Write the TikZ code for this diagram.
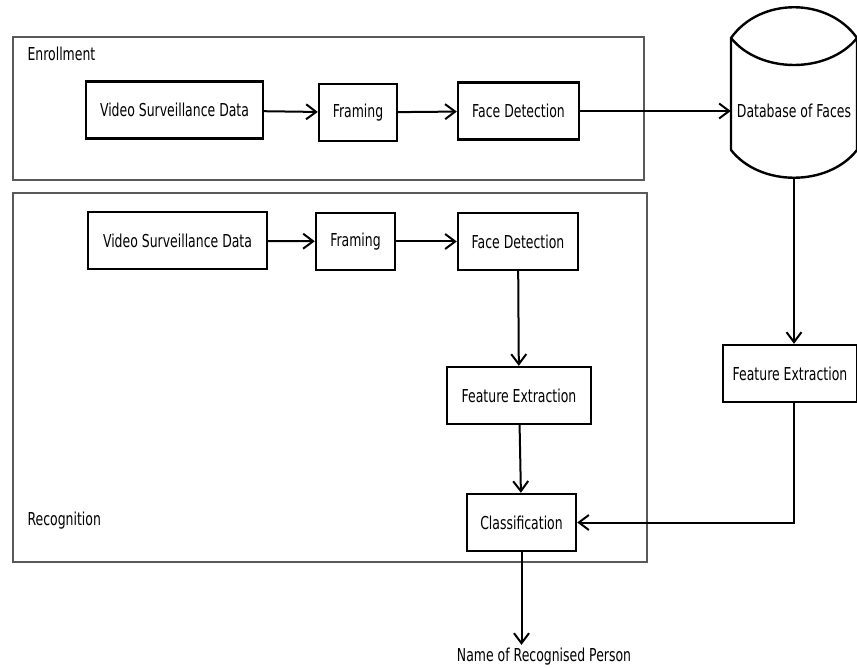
\documentclass[tikz,border=0pt]{standalone}
\usepackage{fontspec}
\setmainfont{DejaVu Sans}[FakeStretch=0.70]
\usetikzlibrary{arrows.meta, positioning}

\begin{document}
\begin{tikzpicture}[x=1pt, y=-1pt, font=\fontsize{17.8}{20}\selectfont,
  stage/.style={draw, line width=2.4pt, minimum height=57pt, inner sep=2pt, align=center},
  frame/.style={draw=black!65, line width=1.1pt},
  flow/.style={-{Straight Barb[length=10pt, width=15pt]}, line width=2pt}]
\useasboundingbox (0,0) rectangle (857,668);
% the two phases
\draw[frame] (13,37) rectangle (644,180);
\draw[frame] (13,193) rectangle (647,562);
\node[anchor=west] (enrl) at (24,54) {Enrollment};
\node[anchor=west] (recg) at (24,521) {Recognition};
% enrollment row
\node[stage, minimum width=177pt] (vsdA) at (174.5,110) {Video Surveillance Data};
\node[stage, minimum width=78pt] (frA) at (358,112.5) {Framing};
\node[stage, minimum width=121pt] (fdA) at (518.5,111) {Face Detection};
% database of faces
\draw[line width=2.4pt] (731,38) .. controls (760,-3) and (828,-3) .. (857,38)
  -- (857,150) .. controls (828,187) and (760,187) .. (731,150) -- cycle;
\draw[line width=2.4pt] (731,38) .. controls (760,74) and (828,74) .. (857,38);
\node[minimum width=126pt, minimum height=134pt, inner sep=0pt] (db) at (794,111) {Database of Faces};
% recognition row
\node[stage, minimum width=179pt] (vsdB) at (177.5,240.5) {Video Surveillance Data};
\node[stage, minimum width=79pt] (frB) at (355.5,241.5) {Framing};
\node[stage, minimum width=120pt] (fdB) at (518,241.5) {Face Detection};
\node[stage, minimum width=144pt] (feB) at (519,395.5) {Feature Extraction};
\node[stage, minimum width=109pt] (cls) at (521.5,522.5) {Classification};
\node[stage, minimum width=134pt] (feA) at (790,373.5) {Feature Extraction};
\node (who) at (544,657) {Name of Recognised Person};
% connectors
\draw[flow] (vsdA) -- (frA);
\draw[flow] (frA) -- (fdA);
\draw[flow] (fdA.east) -- (fdA.east -| db.west);
\draw[flow] (vsdB) -- (frB);
\draw[flow] (frB) -- (fdB);
\draw[flow] (fdB) -- (feB);
\draw[flow] (feB) -- (cls);
\draw[flow] (db.south) -- (db.south |- feA.north);
\draw[flow] (db.south |- feA.south) |- (cls.east);
\draw[flow] (cls.south) -- (cls.south |- who.north);
\end{tikzpicture}
\end{document}
